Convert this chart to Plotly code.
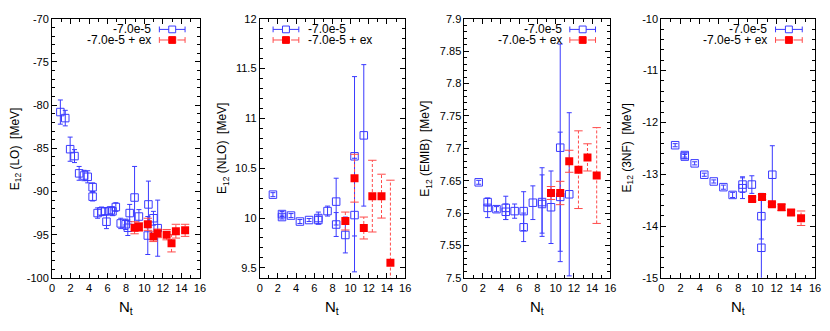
import plotly.graph_objects as go
from plotly.subplots import make_subplots

# ---- values ----
# E12 (LO)
lo_blue_nt = [0.9, 1.43, 1.96, 2.43, 2.93, 3.46, 3.86, 4.39, 4.39, 4.93, 5.36, 5.71, 5.89,
              6.36, 6.54, 6.9, 7.43, 7.97, 8.2, 8.4, 8.93, 9.4, 10.43, 10.36, 10.97, 11.43]
lo_blue_e = [-80.8, -81.5, -85.1, -85.9, -87.9, -88.15, -88.3, -89.5, -90.6, -92.5, -92.3, -92.3, -93.5,
             -92.2, -92.3, -91.8, -93.7, -93.8, -94.2, -92.5, -90.7, -92.9, -91.5, -95.1, -93.1, -94.25]
lo_blue_err = [1.4, 0.9, 1.4, 0.75, 0.8, 0.6, 0.7, 0.5, 0.5, 0.6, 0.5, 0.4, 0.8,
               0.4, 0.5, 0.5, 0.6, 0.6, 0.9, 1.0, 3.6, 0.8, 2.7, 2.2, 0.8, 3.25]
lo_red_nt = [8.93, 9.4, 10.36, 10.97, 11.43, 12.4, 12.93, 13.4, 14.4]
lo_red_e = [-94.2, -94.1, -93.8, -95.2, -94.85, -95.0, -96.0, -94.6, -94.5]
lo_red_err = [0.7, 0.5, 0.7, 0.6, 0.5, 0.6, 1.0, 0.8, 0.7]

# E12 (NLO)
nlo_blue_nt = [1.45, 2.45, 2.45, 3.44, 4.42, 5.43, 6.45, 6.45, 7.46, 8.41, 8.41, 9.42, 10.43, 10.43, 11.45]
nlo_blue_e = [10.235, 10.04, 10.01, 10.025, 9.965, 9.98, 10.0, 9.98, 10.07, 10.165, 9.935, 9.83, 10.62, 10.03, 10.83]
nlo_blue_err = [0.02, 0.025, 0.02, 0.02, 0.02, 0.015, 0.06, 0.04, 0.05, 0.235, 0.12, 0.18, 0.8, 0.57, 0.71]
nlo_red_nt = [9.42, 10.43, 11.45, 12.39, 13.4, 14.38]
nlo_red_e = [9.97, 10.40, 9.90, 10.22, 10.22, 9.55]
nlo_red_err = [0.09, 0.24, 0.11, 0.36, 0.22, 0.83]

# E12 (EMIB)
emib_blue_nt = [1.56, 2.54, 2.54, 3.51, 4.53, 4.53, 5.5, 6.49, 6.49, 7.5, 8.51, 8.51, 9.49, 10.5, 10.5, 11.49]
emib_blue_e = [7.6475, 7.617, 7.608, 7.606, 7.608, 7.602, 7.603, 7.603, 7.578, 7.616, 7.617, 7.614,
               7.609, 7.701, 7.625, 7.629]
emib_blue_err = [0.003, 0.006, 0.015, 0.004, 0.018, 0.012, 0.011, 0.03, 0.022, 0.026, 0.053, 0.045,
                 0.056, 0.16, 0.1, 0.126]
emib_red_nt = [9.49, 10.5, 11.49, 12.5, 13.49, 14.5]
emib_red_e = [7.631, 7.631, 7.680, 7.667, 7.686, 7.658]
emib_red_err = [0.01, 0.018, 0.017, 0.06, 0.021, 0.074]

# E12 (3NF)
nf3_blue_nt = [1.44, 2.44, 2.44, 3.47, 4.47, 5.46, 6.46, 7.42, 8.45, 8.45, 9.42, 10.41, 10.41, 11.55]
nf3_blue_e = [-12.44, -12.63, -12.66, -12.79, -13.01, -13.14, -13.25, -13.40, -13.27, -13.2, -13.2,
              -13.81, -14.42, -13.01]
nf3_blue_err = [0.03, 0.04, 0.04, 0.03, 0.03, 0.03, 0.04, 0.05, 0.2, 0.15, 0.17, 0.44, 1.0, 0.56]
nf3_red_nt = [9.45, 10.48, 11.51, 12.51, 13.5, 14.54]
nf3_red_e = [-13.48, -13.44, -13.58, -13.64, -13.74, -13.85]
nf3_red_err = [0.04, 0.05, 0.04, 0.06, 0.05, 0.14]

x_ticks = [0, 2, 4, 6, 8, 10, 12, 14, 16]
lo_ticks = [-100, -95, -90, -85, -80, -75, -70]
nlo_ticks = [9.5, 10, 10.5, 11, 11.5, 12]
emib_ticks = [7.5, 7.55, 7.6, 7.65, 7.7, 7.75, 7.8, 7.85, 7.9]
nf3_ticks = [-15, -14, -13, -12, -11, -10]

LABEL_BLUE = "-7.0e-5"
LABEL_RED = "-7.0e-5 + ex"

# the page body has an 8px margin, so the figure is drawn 8px in from the corner
OFF = 8
W, H = 830 - OFF, 331 - OFF
BLUE = "#3a3aff"
RED = "#ff0000"
RED_BAR = "#ff4a4a"
FONT = "Liberation Sans, Arial, sans-serif"

PLOT_TOP, PLOT_BOT = 13, 282

panels = [
    dict(title="LO", x=lo_blue_nt, y=lo_blue_e, e=lo_blue_err,
         rx=lo_red_nt, ry=lo_red_e, re=lo_red_err,
         yr=[-100, -70], ticks=lo_ticks, minor=1, px=(49.5, 199), ytx=13,
         legend="right", leg_line=(158, 184), leg_text=152),
    dict(title="NLO", x=nlo_blue_nt, y=nlo_blue_e, e=nlo_blue_err,
         rx=nlo_red_nt, ry=nlo_red_e, re=nlo_red_err,
         yr=[9.4, 12], ticks=nlo_ticks, minor=0.1, px=(259.5, 406.5), ytx=223,
         legend="left", leg_line=(273, 299), leg_text=306),
    dict(title="EMIB", x=emib_blue_nt, y=emib_blue_e, e=emib_blue_err,
         rx=emib_red_nt, ry=emib_red_e, re=emib_red_err,
         yr=[7.5, 7.9], ticks=emib_ticks, minor=0.01, px=(466.5, 614), ytx=428,
         legend="right", leg_line=(573, 599), leg_text=567),
    dict(title="3NF", x=nf3_blue_nt, y=nf3_blue_e, e=nf3_blue_err,
         rx=nf3_red_nt, ry=nf3_red_e, re=nf3_red_err,
         yr=[-15, -10], ticks=nf3_ticks, minor=0.2, px=(665.5, 821), ytx=632,
         legend="right", leg_line=(781, 808), leg_text=774),
]


def fmt(v):
    return f"{v:g}"


def px_x(p):
    return (p - OFF) / W


def px_y(p):
    return 1 - (p - OFF) / H


fig = make_subplots(rows=1, cols=4)
shapes = []
annotations = []

for i, p in enumerate(panels, start=1):
    # blue open squares with solid error bars
    fig.add_trace(
        go.Scatter(
            x=p["x"], y=p["y"], mode="markers", showlegend=False,
            marker=dict(symbol="square-open", size=7.5, color=BLUE, line=dict(width=1, color=BLUE)),
            error_y=dict(type="data", array=p["e"], visible=True, color=BLUE, thickness=1, width=2.5),
        ),
        row=1, col=i,
    )
    # red dashed error bars
    bx, by, cx, cy = [], [], [], []
    for xi, yi, ei in zip(p["rx"], p["ry"], p["re"]):
        bx += [xi, xi, None]
        by += [yi - ei, yi + ei, None]
        cx += [xi, xi]
        cy += [yi - ei, yi + ei]
    fig.add_trace(
        go.Scatter(x=bx, y=by, mode="lines", showlegend=False,
                   line=dict(color=RED_BAR, width=1, dash="3px,2px")),
        row=1, col=i,
    )
    fig.add_trace(
        go.Scatter(x=cx, y=cy, mode="markers", showlegend=False,
                   marker=dict(symbol="line-ew-open", size=6, color=RED_BAR, line=dict(width=1, color=RED_BAR))),
        row=1, col=i,
    )
    fig.add_trace(
        go.Scatter(x=p["rx"], y=p["ry"], mode="markers", showlegend=False,
                   marker=dict(symbol="square", size=8, color=RED, line=dict(width=0))),
        row=1, col=i,
    )

    xa = "xaxis" if i == 1 else f"xaxis{i}"
    ya = "yaxis" if i == 1 else f"yaxis{i}"
    fig.layout[xa].update(
        domain=[px_x(p["px"][0]), px_x(p["px"][1])], range=[0, 16],
        tickmode="array", tickvals=x_ticks, ticktext=[fmt(v) for v in x_ticks],
        ticks="inside", ticklen=5, tickcolor="black", tickwidth=1,
        minor=dict(ticks="inside", ticklen=3, dtick=1, tick0=0, tickcolor="black", showgrid=False),
        showline=True, linecolor="black", linewidth=1, mirror="allticks",
        showgrid=False, zeroline=False, ticklabeloverflow="allow",
        tickfont=dict(size=11, color="black", family=FONT),
    )
    fig.layout[ya].update(
        domain=[px_y(PLOT_BOT), px_y(PLOT_TOP)], range=p["yr"],
        tickmode="array", tickvals=p["ticks"], ticktext=[fmt(v) for v in p["ticks"]],
        ticks="inside", ticklen=5, tickcolor="black", tickwidth=1,
        minor=dict(ticks="inside", ticklen=3, dtick=p["minor"], tick0=p["yr"][0], tickcolor="black",
                   showgrid=False),
        showline=True, linecolor="black", linewidth=1, mirror="allticks",
        showgrid=False, zeroline=False, ticklabeloverflow="allow",
        tickfont=dict(size=11, color="black", family=FONT),
    )

    # axis titles
    annotations.append(dict(
        x=px_x(p["ytx"]), y=px_y((PLOT_TOP + PLOT_BOT) / 2), xref="paper", yref="paper",
        text=f"E<sub>12</sub> ({p['title']}) \u00a0[MeV]", textangle=-90, showarrow=False,
        font=dict(size=12, color="black", family=FONT), xanchor="center", yanchor="middle",
    ))
    annotations.append(dict(
        x=px_x((p["px"][0] + p["px"][1]) / 2), y=px_y(313), xref="paper", yref="paper",
        text="N<sub>t</sub>", showarrow=False,
        font=dict(size=15, color="black", family=FONT), xanchor="center", yanchor="middle",
    ))

    # key, drawn the gnuplot way
    l0, l1 = p["leg_line"]
    mid = (l0 + l1) / 2
    for row_y, label, color, dash, filled in [
        (24, LABEL_BLUE, BLUE, "solid", False),
        (35, LABEL_RED, RED_BAR, "dash", True),
    ]:
        shapes.append(dict(type="line", xref="paper", yref="paper",
                           x0=px_x(l0), x1=px_x(l1), y0=px_y(row_y), y1=px_y(row_y),
                           line=dict(color=color, width=1, dash=dash)))
        for cap in (l0, l1):
            shapes.append(dict(type="line", xref="paper", yref="paper",
                               x0=px_x(cap), x1=px_x(cap), y0=px_y(row_y - 3), y1=px_y(row_y + 3),
                               line=dict(color=color, width=1)))
        shapes.append(dict(type="rect", xref="paper", yref="paper",
                           x0=px_x(mid - 3.5), x1=px_x(mid + 3.5), y0=px_y(row_y + 3.5), y1=px_y(row_y - 3.5),
                           line=dict(color=RED if filled else BLUE, width=1),
                           fillcolor=RED if filled else "white"))
        annotations.append(dict(x=px_x(p["leg_text"]), y=px_y(row_y), xref="paper", yref="paper",
                                text=label, showarrow=False,
                                xanchor="right" if p["legend"] == "right" else "left", yanchor="middle",
                                font=dict(size=12, color="black", family=FONT)))

fig.update_layout(
    width=W, height=H, autosize=False,
    margin=dict(l=0, r=0, t=0, b=0),
    paper_bgcolor="white", plot_bgcolor="white",
    showlegend=False, shapes=shapes, annotations=annotations,
    font=dict(family=FONT, color="black"),
)

fig.write_html("out.html")
